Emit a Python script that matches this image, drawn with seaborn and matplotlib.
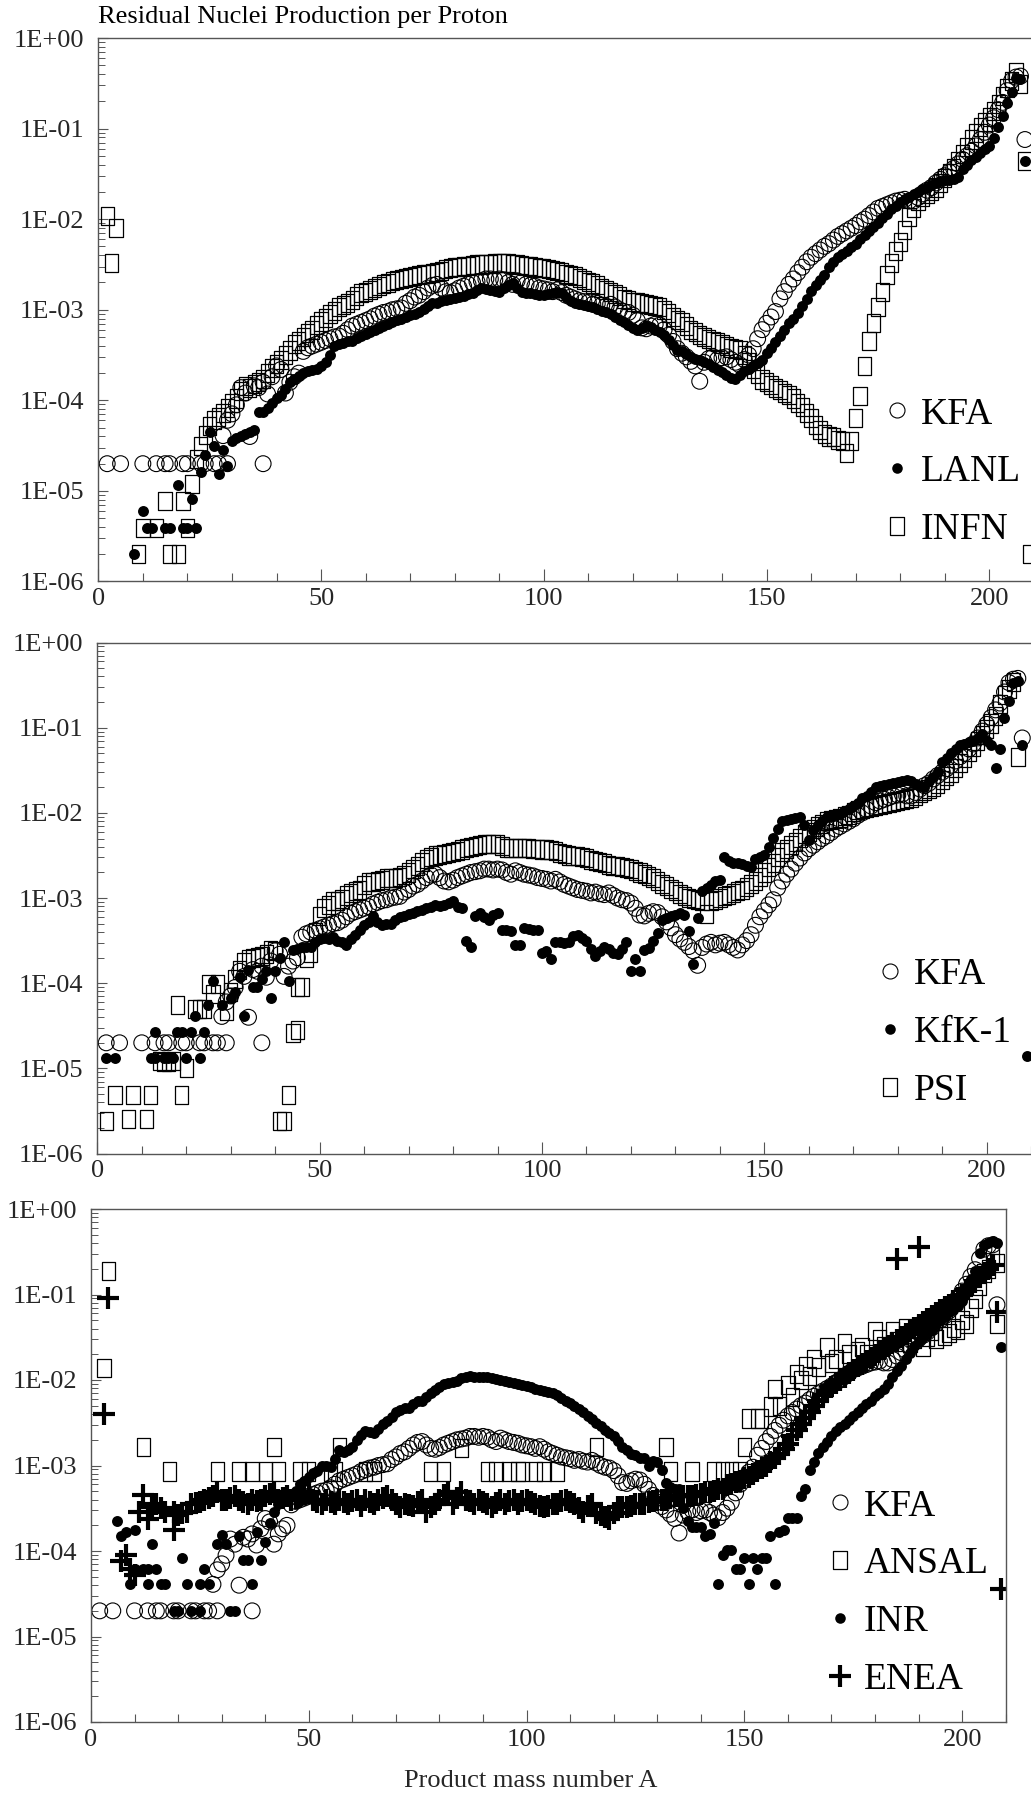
import numpy as np
import matplotlib
matplotlib.use("Agg")
import matplotlib.pyplot as plt
from matplotlib.path import Path
from matplotlib.lines import Line2D
from matplotlib.ticker import LogLocator, MultipleLocator, NullFormatter
import seaborn as sns

# Dense runs start at the mass number given in the *_start names.

# KFA reference set (same points in all three panels)
kfa_low_a = [2, 5, 10, 13, 15, 16, 19, 20, 23, 24, 26, 27, 29, 37]
kfa_low = [-4.70, -4.70, -4.70, -4.70, -4.70, -4.70, -4.70, -4.70, -4.70, -4.70, -4.70, -4.70, -4.70, -4.70]
kfa_start = 28
kfa = [-4.39, -4.22, -4.15, -4.05, -3.86, -3.92, -4.40, -3.84, -3.86, -3.80,
       -3.93, -3.74, -3.62, -3.66, -3.92, -3.80, -3.74, -3.70, -3.46, -3.42,
       -3.40, -3.38, -3.36, -3.34, -3.32, -3.30, -3.29, -3.26, -3.22, -3.18,
       -3.16, -3.14, -3.12, -3.10, -3.07, -3.05, -3.03, -3.02, -3.00, -2.99,
       -2.98, -2.93, -2.90, -2.86, -2.84, -2.80, -2.76, -2.73, -2.72, -2.76,
       -2.80, -2.81, -2.79, -2.76, -2.74, -2.72, -2.70, -2.69, -2.68, -2.66,
       -2.66, -2.67, -2.66, -2.67, -2.70, -2.72, -2.68, -2.70, -2.72, -2.73,
       -2.74, -2.76, -2.77, -2.78, -2.80, -2.78, -2.81, -2.84, -2.86, -2.88,
       -2.90, -2.91, -2.92, -2.94, -2.93, -2.95, -2.96, -2.94, -2.97, -3.00,
       -3.02, -3.03, -3.06, -3.12, -3.20, -3.21, -3.18, -3.16, -3.17, -3.22,
       -3.28, -3.35, -3.43, -3.48, -3.52, -3.57, -3.62, -3.79, -3.58, -3.54,
       -3.52, -3.55, -3.53, -3.52, -3.55, -3.58, -3.61, -3.55, -3.50, -3.43,
       -3.32, -3.22, -3.15, -3.08, -3.02, -2.88, -2.80, -2.72, -2.66, -2.59,
       -2.53, -2.47, -2.42, -2.38, -2.34, -2.30, -2.27, -2.23, -2.19, -2.16,
       -2.13, -2.10, -2.07, -2.03, -2.00, -1.96, -1.92, -1.88, -1.86, -1.84,
       -1.82, -1.80, -1.79, -1.78, -1.80, -1.80, -1.76, -1.72, -1.68, -1.65,
       -1.60, -1.56, -1.52, -1.48, -1.44, -1.39, -1.34, -1.30, -1.25, -1.19,
       -1.12, -1.04, -0.96, -0.88, -0.79, -0.71, -0.58, -0.47, -0.43, -0.42,
       -1.12]

# Panel 1: LANL
lanl_low_a = [8, 10, 11, 12, 15, 16, 18, 19, 20, 21, 22, 23]
lanl_low = [-5.70, -5.22, -5.41, -5.41, -5.41, -5.41, -4.93, -5.41, -5.41, -5.09, -5.41, -4.79]
lanl_start = 24
lanl = [-4.60, -4.35, -4.50, -4.81, -4.55, -4.73, -4.45, -4.42, -4.39, -4.37,
        -4.35, -4.33, -4.13, -4.13, -4.08, -4.03, -3.98, -3.94, -3.88, -3.80,
        -3.77, -3.73, -3.70, -3.68, -3.66, -3.65, -3.62, -3.58, -3.50, -3.40,
        -3.38, -3.37, -3.35, -3.34, -3.31, -3.29, -3.27, -3.25, -3.22, -3.20,
        -3.18, -3.16, -3.13, -3.11, -3.10, -3.08, -3.06, -3.05, -3.02, -2.99,
        -2.96, -2.93, -2.92, -2.90, -2.89, -2.88, -2.87, -2.86, -2.85, -2.83,
        -2.81, -2.78, -2.76, -2.77, -2.78, -2.79, -2.80, -2.76, -2.73, -2.71,
        -2.76, -2.80, -2.81, -2.82, -2.83, -2.84, -2.84, -2.83, -2.81, -2.80,
        -2.82, -2.86, -2.90, -2.93, -2.94, -2.95, -2.96, -2.97, -2.99, -3.01,
        -3.03, -3.05, -3.08, -3.11, -3.14, -3.17, -3.20, -3.22, -3.20, -3.18,
        -3.19, -3.22, -3.25, -3.28, -3.33, -3.39, -3.44, -3.46, -3.49, -3.52,
        -3.54, -3.56, -3.58, -3.60, -3.63, -3.66, -3.69, -3.72, -3.75, -3.77,
        -3.72, -3.68, -3.65, -3.62, -3.59, -3.56, -3.48, -3.42, -3.36, -3.29,
        -3.22, -3.15, -3.10, -3.04, -2.96, -2.88, -2.79, -2.73, -2.67, -2.62,
        -2.53, -2.47, -2.42, -2.38, -2.35, -2.31, -2.27, -2.22, -2.17, -2.13,
        -2.09, -2.04, -1.99, -1.94, -1.89, -1.85, -1.81, -1.78, -1.75, -1.72,
        -1.70, -1.67, -1.65, -1.62, -1.60, -1.58, -1.57, -1.57, -1.56, -1.53,
        -1.45, -1.40, -1.35, -1.31, -1.27, -1.23, -1.19, -1.10, -0.98, -0.86,
        -0.72, -0.60, -0.44, -0.45, -1.36]

# Panel 1: INFN
infn_low_a = [2, 3, 4, 9, 10, 13, 15, 16, 18, 19, 20, 21, 209]
infn_low = [-1.96, -2.48, -2.10, -5.70, -5.41, -5.41, -5.11, -5.70, -5.70, -5.11, -5.41, -4.92, -5.70]
infn_start = 22
infn = [-4.65, -4.50, -4.38, -4.28, -4.22, -4.18, -4.14, -4.08, -4.03, -3.98,
        -3.90, -3.84, -3.86, -3.82, -3.80, -3.76, -3.70, -3.64, -3.60, -3.55,
        -3.50, -3.45, -3.38, -3.34, -3.30, -3.26, -3.22, -3.17, -3.13, -3.09,
        -3.05, -3.01, -2.97, -2.95, -2.93, -2.89, -2.85, -2.82, -2.80, -2.78,
        -2.76, -2.74, -2.72, -2.70, -2.68, -2.67, -2.66, -2.65, -2.64, -2.63,
        -2.62, -2.61, -2.60, -2.59, -2.58, -2.57, -2.55, -2.54, -2.53, -2.53,
        -2.52, -2.52, -2.51, -2.50, -2.50, -2.49, -2.49, -2.48, -2.48, -2.48,
        -2.48, -2.49, -2.50, -2.51, -2.52, -2.52, -2.53, -2.54, -2.54, -2.55,
        -2.56, -2.57, -2.58, -2.60, -2.62, -2.63, -2.65, -2.67, -2.69, -2.71,
        -2.73, -2.76, -2.78, -2.80, -2.83, -2.85, -2.88, -2.89, -2.91, -2.92,
        -2.93, -2.94, -2.95, -2.96, -2.97, -3.00, -3.04, -3.08, -3.11, -3.14,
        -3.18, -3.22, -3.25, -3.28, -3.30, -3.32, -3.34, -3.36, -3.38, -3.40,
        -3.42, -3.43, -3.44, -3.50, -3.58, -3.65, -3.71, -3.77, -3.80, -3.83,
        -3.86, -3.89, -3.92, -3.94, -3.98, -4.03, -4.07, -4.14, -4.20, -4.27,
        -4.33, -4.37, -4.40, -4.41, -4.44, -4.45, -4.58, -4.45, -4.20, -3.95,
        -3.62, -3.35, -3.15, -2.97, -2.80, -2.62, -2.48, -2.35, -2.25, -2.12,
        -1.98, -1.88, -1.80, -1.75, -1.72, -1.69, -1.65, -1.60, -1.55, -1.49,
        -1.43, -1.36, -1.28, -1.20, -1.12, -1.05, -0.98, -0.93, -0.87, -0.81,
        -0.73, -0.64, -0.55, -0.47, -0.38, -0.51, -1.36]

# Panel 2: KfK-1
kfk_low_a = [2, 4, 12, 13, 13, 15, 16, 17, 18, 19, 20, 21, 22, 23, 24, 25, 26, 28]
kfk_low = [-4.88, -4.88, -4.88, -4.57, -4.88, -4.88, -4.88, -4.88, -4.57, -4.57,
           -4.88, -4.57, -4.39, -4.88, -4.57, -4.26, -3.97, -4.26]
kfk_start = 30
kfk = [-4.17, -4.10, -3.93, -4.39, -3.84, -4.04, -4.04, -3.95, -3.86, -4.17,
       -3.86, -3.70, -3.52, -3.97, -3.61, -3.60, -3.57, -3.58, -3.57, -3.52,
       -3.48, -3.47, -3.48, -3.46, -3.50, -3.52, -3.55, -3.48, -3.43, -3.38,
       -3.32, -3.28, -3.21, -3.28, -3.32, -3.31, -3.30, -3.26, -3.22, -3.21,
       -3.19, -3.17, -3.15, -3.14, -3.12, -3.10, -3.08, -3.09, -3.08, -3.06,
       -3.03, -3.10, -3.12, -3.50, -3.57, -3.21, -3.17, -3.22, -3.26, -3.20,
       -3.17, -3.37, -3.38, -3.39, -3.55, -3.55, -3.35, -3.36, -3.37, -3.38,
       -3.64, -3.62, -3.72, -3.52, -3.52, -3.53, -3.52, -3.45, -3.43, -3.47,
       -3.50, -3.60, -3.68, -3.62, -3.57, -3.60, -3.64, -3.66, -3.60, -3.52,
       -3.86, -3.72, -3.86, -3.61, -3.59, -3.50, -3.41, -3.26, -3.24, -3.21,
       -3.20, -3.17, -3.20, -3.39, -3.77, -3.23, -2.92, -2.88, -2.85, -2.80,
       -2.79, -2.52, -2.57, -2.59, -2.59, -2.60, -2.62, -2.63, -2.54, -2.52,
       -2.49, -2.40, -2.30, -2.19, -2.10, -2.08, -2.07, -2.06, -2.05, -2.14,
       -2.32, -2.20, -2.14, -2.09, -2.05, -2.04, -2.02, -2.01, -1.98, -1.95,
       -1.92, -1.88, -1.83, -1.80, -1.76, -1.70, -1.68, -1.67, -1.66, -1.65,
       -1.64, -1.62, -1.61, -1.63, -1.66, -1.68, -1.69, -1.63, -1.58, -1.52,
       -1.40, -1.35, -1.30, -1.25, -1.20, -1.19, -1.17, -1.16, -1.12, -1.07,
       -1.15, -1.20, -1.47, -1.25, -0.89, -0.69, -0.47, -0.45, -1.20, -4.86]

# Panel 2: PSI
psi_low_a = [2, 4, 7, 8, 11, 12, 14, 15, 16, 17, 18, 19, 20, 22, 23, 24, 25, 26, 27, 29, 30,
             31, 32, 33, 34, 35, 36, 37, 38, 39, 40, 41, 42, 43, 44, 45, 45, 46]
psi_low = [-5.62, -5.31, -5.60, -5.31, -5.60, -5.31, -4.91, -4.93, -4.93, -4.91, -4.26,
           -5.31, -5.00, -4.30, -4.30, -4.30, -4.01, -4.13, -4.01, -4.33, -4.10,
           -3.95, -3.84, -3.75, -3.72, -3.70, -3.69, -3.68, -3.66, -3.61, -3.62,
           -5.62, -5.62, -5.31, -4.59, -4.55, -4.04, -4.04]
psi_start = 47
psi = [-3.70, -3.64, -3.40, -3.21, -3.12, -3.08, -3.04, -3.03, -3.01, -2.97,
       -2.94, -2.92, -2.90, -2.85, -2.81, -2.81, -2.80, -2.79, -2.77, -2.77,
       -2.77, -2.75, -2.73, -2.70, -2.66, -2.62, -2.58, -2.54, -2.52, -2.50,
       -2.49, -2.48, -2.47, -2.46, -2.45, -2.43, -2.41, -2.40, -2.39, -2.38,
       -2.36, -2.36, -2.36, -2.37, -2.39, -2.41, -2.41, -2.41, -2.41, -2.41,
       -2.41, -2.42, -2.42, -2.43, -2.43, -2.44, -2.45, -2.47, -2.48, -2.50,
       -2.51, -2.51, -2.52, -2.53, -2.55, -2.56, -2.58, -2.59, -2.61, -2.62,
       -2.62, -2.63, -2.65, -2.66, -2.68, -2.70, -2.72, -2.74, -2.77, -2.80,
       -2.83, -2.86, -2.89, -2.92, -2.95, -2.98, -3.00, -3.01, -3.02, -3.03,
       -3.19, -3.04, -3.02, -3.00, -2.98, -2.96, -2.94, -2.92, -2.90, -2.87,
       -2.84, -2.80, -2.75, -2.70, -2.64, -2.59, -2.52, -2.46, -2.42, -2.38,
       -2.34, -2.29, -2.25, -2.22, -2.19, -2.16, -2.13, -2.10, -2.08, -2.07,
       -2.06, -2.04, -2.02, -1.99, -1.97, -1.95, -1.94, -1.93, -1.92, -1.91,
       -1.89, -1.88, -1.87, -1.86, -1.85, -1.84, -1.83, -1.80, -1.77, -1.74,
       -1.72, -1.70, -1.66, -1.61, -1.57, -1.53, -1.47, -1.41, -1.35, -1.29,
       -1.23, -1.16, -1.09, -1.02, -0.95, -0.86, -0.72, -0.62, -0.54, -0.46,
       -1.34]

# Panel 3: ANSAL (sparse)
ansal_a = [3, 4, 12, 18, 29, 34, 37, 40, 42, 43, 48, 50, 55, 56, 57, 63, 65, 78, 81, 85,
           91, 93, 96, 98, 99, 102, 104, 107, 116, 132, 133, 138, 143, 145, 147, 149, 150,
           151, 153, 154, 156, 157, 158, 160, 161, 162, 163, 164, 165, 166, 167, 169, 170,
           171, 173, 174, 176, 177, 178, 180, 181, 182, 184, 185, 187, 188, 189, 191, 192,
           193, 194, 196, 197, 198, 199, 200, 201, 202, 203, 204, 205, 206, 207, 208, 208]
ansal = [-1.86, -0.72, -2.78, -3.07, -3.07, -3.07, -3.07, -3.07, -2.78, -3.07,
         -3.07, -3.07, -3.07, -3.07, -2.78, -3.07, -3.07, -3.07, -3.07, -2.80,
         -3.07, -3.07, -3.07, -3.07, -3.07, -3.07, -3.07, -3.07, -2.78, -2.78,
         -3.07, -3.07, -3.07, -3.07, -3.07, -3.07, -2.78, -2.45, -2.45, -2.45,
         -2.31, -2.10, -2.30, -2.06, -2.20, -1.93, -2.00, -1.84, -1.95, -1.75,
         -1.85, -1.61, -1.80, -1.75, -1.57, -1.70, -1.66, -1.61, -1.70, -1.43,
         -1.52, -1.60, -1.43, -1.55, -1.39, -1.57, -1.52, -1.61, -1.50, -1.43,
         -1.52, -1.48, -1.45, -1.39, -1.42, -1.30, -1.35, -1.16, -1.05, -0.90,
         -0.75, -0.70, -0.54, -0.63, -1.34]

# Panel 3: INR
inr_low_a = [6, 7, 8, 9, 10, 10, 12, 13, 13, 14, 15, 16, 17, 19, 20, 21, 22, 23, 25, 25,
             26, 27, 29, 30, 31, 32, 33, 34, 35, 36, 37, 38, 39, 40]
inr_low = [-3.65, -3.83, -3.78, -4.39, -3.76, -4.21, -4.21, -4.39, -4.21, -3.92,
           -4.21, -4.39, -4.39, -4.70, -4.70, -4.08, -4.39, -4.70, -4.70, -4.39,
           -4.21, -4.39, -3.92, -3.81, -3.92, -4.70, -4.70, -3.83, -4.10, -4.10,
           -4.39, -3.78, -4.10, -3.90]
inr_start = 41
inr = [-3.67, -3.54, -3.45, -3.42, -3.40, -3.35, -3.30, -3.22, -3.18, -3.14,
       -3.09, -3.07, -3.00, -3.00, -3.02, -2.92, -2.82, -2.84, -2.82, -2.78,
       -2.70, -2.64, -2.60, -2.61, -2.62, -2.57, -2.51, -2.48, -2.43, -2.37,
       -2.35, -2.33, -2.33, -2.28, -2.24, -2.24, -2.20, -2.15, -2.12, -2.08,
       -2.05, -2.04, -2.02, -2.01, -1.98, -1.97, -1.95, -1.96, -1.97, -1.97,
       -1.97, -1.98, -1.99, -2.00, -2.01, -2.02, -2.03, -2.05, -2.06, -2.07,
       -2.08, -2.10, -2.12, -2.13, -2.14, -2.15, -2.18, -2.21, -2.24, -2.27,
       -2.30, -2.34, -2.37, -2.42, -2.46, -2.50, -2.54, -2.58, -2.62, -2.66,
       -2.71, -2.78, -2.82, -2.86, -2.88, -2.91, -2.91, -3.00, -2.95, -2.96,
       -3.05, -3.20, -3.25, -3.27, -3.27, -3.50, -3.65, -3.72, -3.72, -3.72,
       -3.83, -3.80, -3.67, -4.39, -4.05, -3.99, -3.99, -4.21, -4.21, -4.08,
       -4.39, -4.08, -4.21, -4.08, -4.08, -3.83, -4.39, -3.78, -3.76, -3.61,
       -3.61, -3.61, -3.36, -3.27, -3.05, -2.96, -2.85, -2.78, -2.73, -2.66,
       -2.60, -2.55, -2.52, -2.47, -2.42, -2.38, -2.33, -2.28, -2.24, -2.19,
       -2.15, -2.10, -2.05, -1.96, -1.90, -1.84, -1.76, -1.68, -1.60, -1.54,
       -1.50, -1.46, -1.41, -1.35, -1.30, -1.26, -1.21, -1.18, -1.14, -1.08,
       -0.96, -0.82, -0.72, -0.52, -0.42, -0.40, -0.38, -0.40, -1.61]

# Panel 3: ENEA
enea_low_a = [3, 4, 7, 8, 9, 10, 11, 12, 13, 14, 15, 16, 17, 19, 19, 20, 185, 190]
enea_low = [-2.40, -1.04, -4.12, -4.05, -4.21, -4.28, -3.54, -3.34, -3.63, -3.49,
            -3.45, -3.50, -3.54, -3.76, -3.54, -3.58, -0.58, -0.45]
enea_start = 21
enea = [-3.55, -3.54, -3.45, -3.44, -3.43, -3.40, -3.38, -3.36, -3.31, -3.40,
        -3.40, -3.38, -3.36, -3.40, -3.43, -3.45, -3.40, -3.42, -3.40, -3.36,
        -3.33, -3.31, -3.40, -3.38, -3.36, -3.40, -3.38, -3.36, -3.33, -3.31,
        -3.40, -3.43, -3.45, -3.40, -3.43, -3.45, -3.40, -3.43, -3.45, -3.42,
        -3.40, -3.47, -3.40, -3.43, -3.45, -3.40, -3.38, -3.36, -3.40, -3.45,
        -3.49, -3.45, -3.46, -3.47, -3.43, -3.40, -3.54, -3.48, -3.45, -3.40,
        -3.35, -3.31, -3.45, -3.38, -3.31, -3.40, -3.42, -3.45, -3.40, -3.43,
        -3.45, -3.49, -3.44, -3.40, -3.45, -3.42, -3.40, -3.45, -3.42, -3.40,
        -3.43, -3.45, -3.47, -3.49, -3.47, -3.45, -3.45, -3.42, -3.40, -3.43,
        -3.45, -3.50, -3.54, -3.47, -3.45, -3.55, -3.58, -3.60, -3.63, -3.55,
        -3.49, -3.49, -3.49, -3.47, -3.45, -3.45, -3.45, -3.43, -3.42, -3.40,
        -3.40, -3.40, -3.38, -3.36, -3.36, -3.36, -3.36, -3.36, -3.35, -3.33,
        -3.31, -3.31, -3.30, -3.27, -3.27, -3.23, -3.22, -3.19, -3.18, -3.15,
        -3.13, -3.10, -3.07, -3.03, -3.00, -2.96, -2.91, -2.86, -2.81, -2.75,
        -2.66, -2.58, -2.51, -2.44, -2.37, -2.30, -2.24, -2.18, -2.13, -2.08,
        -2.04, -2.00, -1.96, -1.92, -1.88, -1.84, -1.81, -1.78, -1.74, -1.71,
        -1.67, -1.64, -1.60, -1.57, -1.53, -1.50, -1.46, -1.43, -1.39, -1.36,
        -1.32, -1.29, -1.25, -1.22, -1.18, -1.15, -1.12, -1.08, -1.04, -1.00,
        -0.95, -0.90, -0.85, -0.80, -0.75, -0.70, -0.65, -1.21, -4.45]

y_ticks = [1e0, 1e-1, 1e-2, 1e-3, 1e-4, 1e-5, 1e-6]
y_labels = ["1E+00", "1E-01", "1E-02", "1E-03", "1E-04", "1E-05", "1E-06"]


def series(low_a, low_vals, start, vals):
    a = np.concatenate([np.asarray(low_a, float), start + np.arange(len(vals))])
    v = np.concatenate([np.asarray(low_vals, float), np.asarray(vals, float)])
    return a, 10.0 ** v


sns.set_theme(style="white")
plt.rcParams["font.family"] = ["Liberation Serif", "DejaVu Serif"]
plt.rcParams["text.color"] = "black"
plt.rcParams["axes.edgecolor"] = "#555555"

W, H = 1031, 1813
fig = plt.figure(figsize=(W / 100, H / 100), dpi=100)


def box(left, top, right, bottom):
    return [left / W, 1 - bottom / H, (right - left) / W, (bottom - top) / H]


ax1 = fig.add_axes(box(98.3, 38.1, 98.3 + 210 * 4.455, 581.4))
ax2 = fig.add_axes(box(97.3, 642.6, 97.3 + 210 * 4.447, 1153.5))
ax3 = fig.add_axes(box(91.0, 1209.0, 1005.7, 1722.0))

# tall open rectangle used for the square symbols
rect = Path([(-0.74, -1), (0.74, -1), (0.74, 1), (-0.74, 1), (-0.74, -1)],
            [Path.MOVETO, Path.LINETO, Path.LINETO, Path.LINETO, Path.CLOSEPOLY])

STY = {
    "open": dict(marker="o", s=130, facecolor="none", edgecolor="black", linewidth=0.8),
    "dot": dict(marker="o", s=62, color="black", edgecolor="black", linewidth=0),
    "square": dict(marker=rect, s=169, facecolor="none", edgecolor="black", linewidth=0.9),
    "plus": dict(marker="+", s=250, color="black", linewidth=3),
}
HANDLE = {
    "open": dict(marker="o", ms=10.8, mfc="none", mec="black", mew=0.8),
    "dot": dict(marker="o", ms=7.6, mfc="black", mec="black", mew=0),
    "square": dict(marker=rect, ms=13, mfc="none", mec="black", mew=0.9),
    "plus": dict(marker="+", ms=15.8, mec="black", mew=3),
}

kfa_xy = series(kfa_low_a, kfa_low, kfa_start, kfa)
panels = [
    (ax1, [("KFA", "open", kfa_xy),
           ("LANL", "dot", series(lanl_low_a, lanl_low, lanl_start, lanl)),
           ("INFN", "square", series(infn_low_a, infn_low, infn_start, infn))],
     ["KFA", "LANL", "INFN"], (879, 397)),
    (ax2, [("KFA", "open", kfa_xy),
           ("PSI", "square", series(psi_low_a, psi_low, psi_start, psi)),
           ("KfK-1", "dot", series(kfk_low_a, kfk_low, kfk_start, kfk))],
     ["KFA", "KfK-1", "PSI"], (872, 958)),
    (ax3, [("ANSAL", "square", (np.asarray(ansal_a, float), 10.0 ** np.asarray(ansal))),
           ("KFA", "open", kfa_xy),
           ("ENEA", "plus", series(enea_low_a, enea_low, enea_start, enea)),
           ("INR", "dot", series(inr_low_a, inr_low, inr_start, inr))],
     ["KFA", "ANSAL", "INR", "ENEA"], (822, 1489)),
]

for ax, layers, order, (lx, ly) in panels:
    kinds = {}
    for name, kind, (a, v) in layers:
        sns.scatterplot(x=a, y=v, ax=ax, legend=False, clip_on=True, **STY[kind])
        kinds[name] = kind
    ax.set_yscale("log")
    ax.set_ylim(1e-6, 1)
    ax.set_xlim(0, 210)
    ax.set_yticks(y_ticks, y_labels)
    ax.yaxis.set_minor_locator(LogLocator(base=10, subs=np.arange(2, 10)))
    ax.yaxis.set_minor_formatter(NullFormatter())
    ax.set_xticks([0, 50, 100, 150, 200])
    ax.xaxis.set_minor_locator(MultipleLocator(10))
    ax.tick_params(axis="y", which="major", direction="in", length=7, width=0.8,
                   color="#555555", labelsize=19, pad=10, left=True)
    ax.tick_params(axis="y", which="minor", direction="in", length=5, width=0.7,
                   color="#555555", left=True)
    ax.tick_params(axis="x", which="major", direction="in", length=9, width=0.8,
                   color="#555555", labelsize=19, pad=5, bottom=True)
    ax.tick_params(axis="x", which="minor", direction="in", length=5.5, width=0.8,
                   color="#555555", bottom=True)
    for sp in ax.spines.values():
        sp.set_linewidth(1.0)
        sp.set_color("#555555")
    ax.set_xlabel("")
    ax.set_ylabel("")
    handles = [Line2D([], [], ls="none", **HANDLE[kinds[n]]) for n in order]
    ax.legend(handles, order, loc="upper left", bbox_to_anchor=(lx / W, 1 - ly / H),
              bbox_transform=fig.transFigure, frameon=False, fontsize=27,
              handlelength=0.95, handletextpad=0.17, labelspacing=0.62,
              borderpad=0, borderaxespad=0)

ax1.spines["right"].set_visible(False)
ax2.spines["right"].set_visible(False)

ax3.set_xlabel("Product mass number A", fontsize=19, labelpad=14)
ax3.xaxis.label.set_x((531 - 91) / (1005.7 - 91))

fig.text(98 / W, 1 - 17 / H, "Residual Nuclei Production per Proton",
         ha="left", va="center", fontsize=19)

fig.savefig("out.png", dpi=100)
